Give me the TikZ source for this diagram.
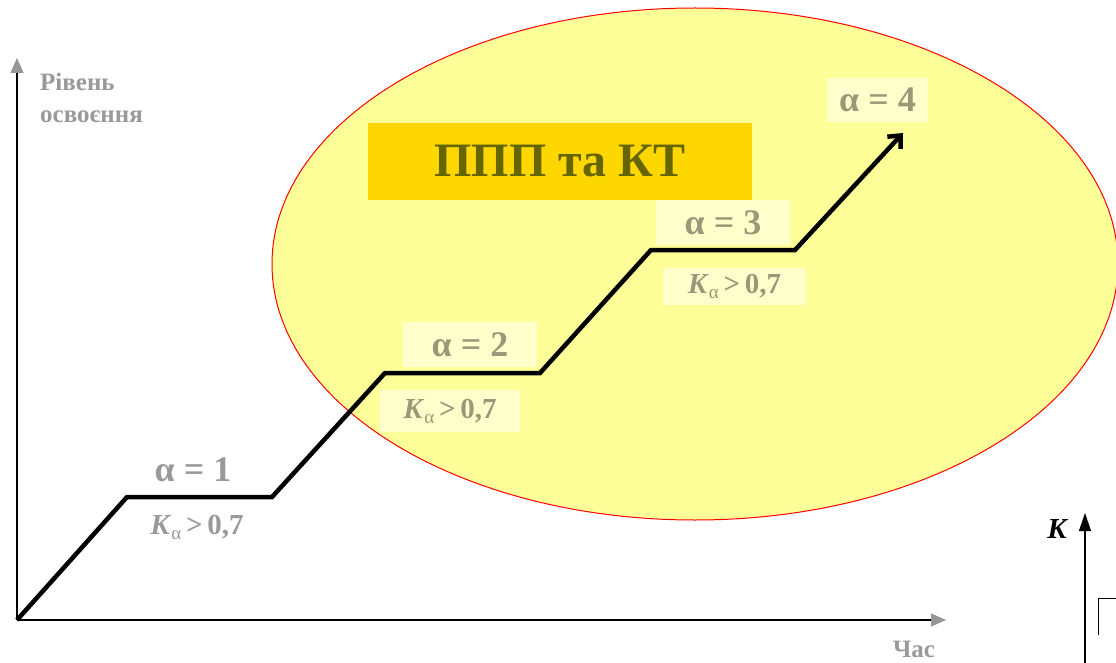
\documentclass[tikz,border=0pt]{standalone}
\usepackage{fontspec}
\setmainfont{Liberation Serif}
\usetikzlibrary{arrows.meta,shapes.geometric}
\definecolor{ellyellow}{RGB}{255,255,153}
\definecolor{titlegold}{RGB}{255,215,0}
\definecolor{titletext}{RGB}{102,102,0}
\definecolor{axgray}{RGB}{150,150,150}
\tikzset{
  lbl/.style={fill=white, fill opacity=0.5, text=black, text opacity=0.4, font=\bfseries\fontsize{36}{40}\selectfont, inner sep=0pt, align=center},
  klbl/.style={lbl, font=\bfseries\fontsize{29}{34}\selectfont},
  axtext/.style={text=black, text opacity=0.4, font=\bfseries\fontsize{25}{32}\selectfont, inner sep=0pt},
  axis/.style={line width=1.3pt, -{Triangle[length=15pt, width=13pt, color=axgray]}},
  stair/.style={line width=4.5pt, line join=miter, -{Straight Barb[length=10pt, width=18pt, line width=4.5pt]}},
}
\newcommand{\Ka}{\textit{K}{\mdseries\fontsize{19}{19}\selectfont\raisebox{-5pt}{α}}\,>\,0,7}
\begin{document}
\begin{tikzpicture}[x=1pt,y=-1pt]
\useasboundingbox (0,0) rectangle (1116,663);
% ellipse
\node[draw=red, fill=ellyellow, line width=1pt, ellipse, minimum width=846pt, minimum height=512pt, inner sep=0pt] (ell) at (695,264) {};
% title
\node[fill=titlegold, minimum width=384pt, minimum height=77pt, inner sep=0pt, text=titletext, font=\bfseries\fontsize{48}{56}\selectfont] (title) at (560,161.5) {ППП та КТ};
% axes
\coordinate (O) at (17,620);
\coordinate (ytip) at (17,58);
\coordinate (xtip) at (946,620);
\draw[axis] (O) -- (ytip);
\draw[axis] (O) -- (xtip);
\node[axtext, anchor=north west, align=left] (ylab) at (40,73) {Рівень\\освоєння};
\node[axtext, anchor=base] (xlab) at (914,657) {Час};
% labels
\node[lbl, minimum width=134pt, minimum height=45pt] (a1) at (193,470) {α = 1};
\node[klbl, minimum width=140pt, minimum height=40pt] (k1) at (197,527) {\Ka};
\node[lbl, minimum width=134pt, minimum height=45pt] (a2) at (470,344.5) {α = 2};
\node[klbl, minimum width=140pt, minimum height=42pt] (k2) at (450,411) {\Ka};
\node[lbl, minimum width=134pt, minimum height=45pt] (a3) at (723,222.5) {α = 3};
\node[klbl, minimum width=143pt, minimum height=37pt] (k3) at (734.5,286.5) {\Ka};
\node[lbl, minimum width=101pt, minimum height=44pt] (a4) at (877.5,100) {α = 4};
% staircase
\coordinate (s1) at (127,497);
\coordinate (s2) at (272,497);
\coordinate (s3) at (385,373);
\coordinate (s4) at (540,373);
\coordinate (s5) at (651,250);
\coordinate (s6) at (795,250);
\coordinate (s7) at (903,133);
\draw[stair] (O) -- (s1) -- (s2) -- (s3) -- (s4) -- (s5) -- (s6) -- (s7);
% K axis (bottom right)
\coordinate (kb) at (1085,663);
\coordinate (kt) at (1085,513);
\draw[line width=1.2pt, -{Triangle[length=18pt, width=12pt]}] (kb) -- (kt);
\node[font=\bfseries\itshape\fontsize{29}{34}\selectfont, inner sep=0pt] (klab) at (1057,529) {K};
\coordinate (b1) at (1098,635);
\coordinate (b2) at (1098,598);
\coordinate (b3) at (1116,598);
\draw[line width=1pt] (b1) -- (b2) -- (b3);
\end{tikzpicture}
\end{document}
